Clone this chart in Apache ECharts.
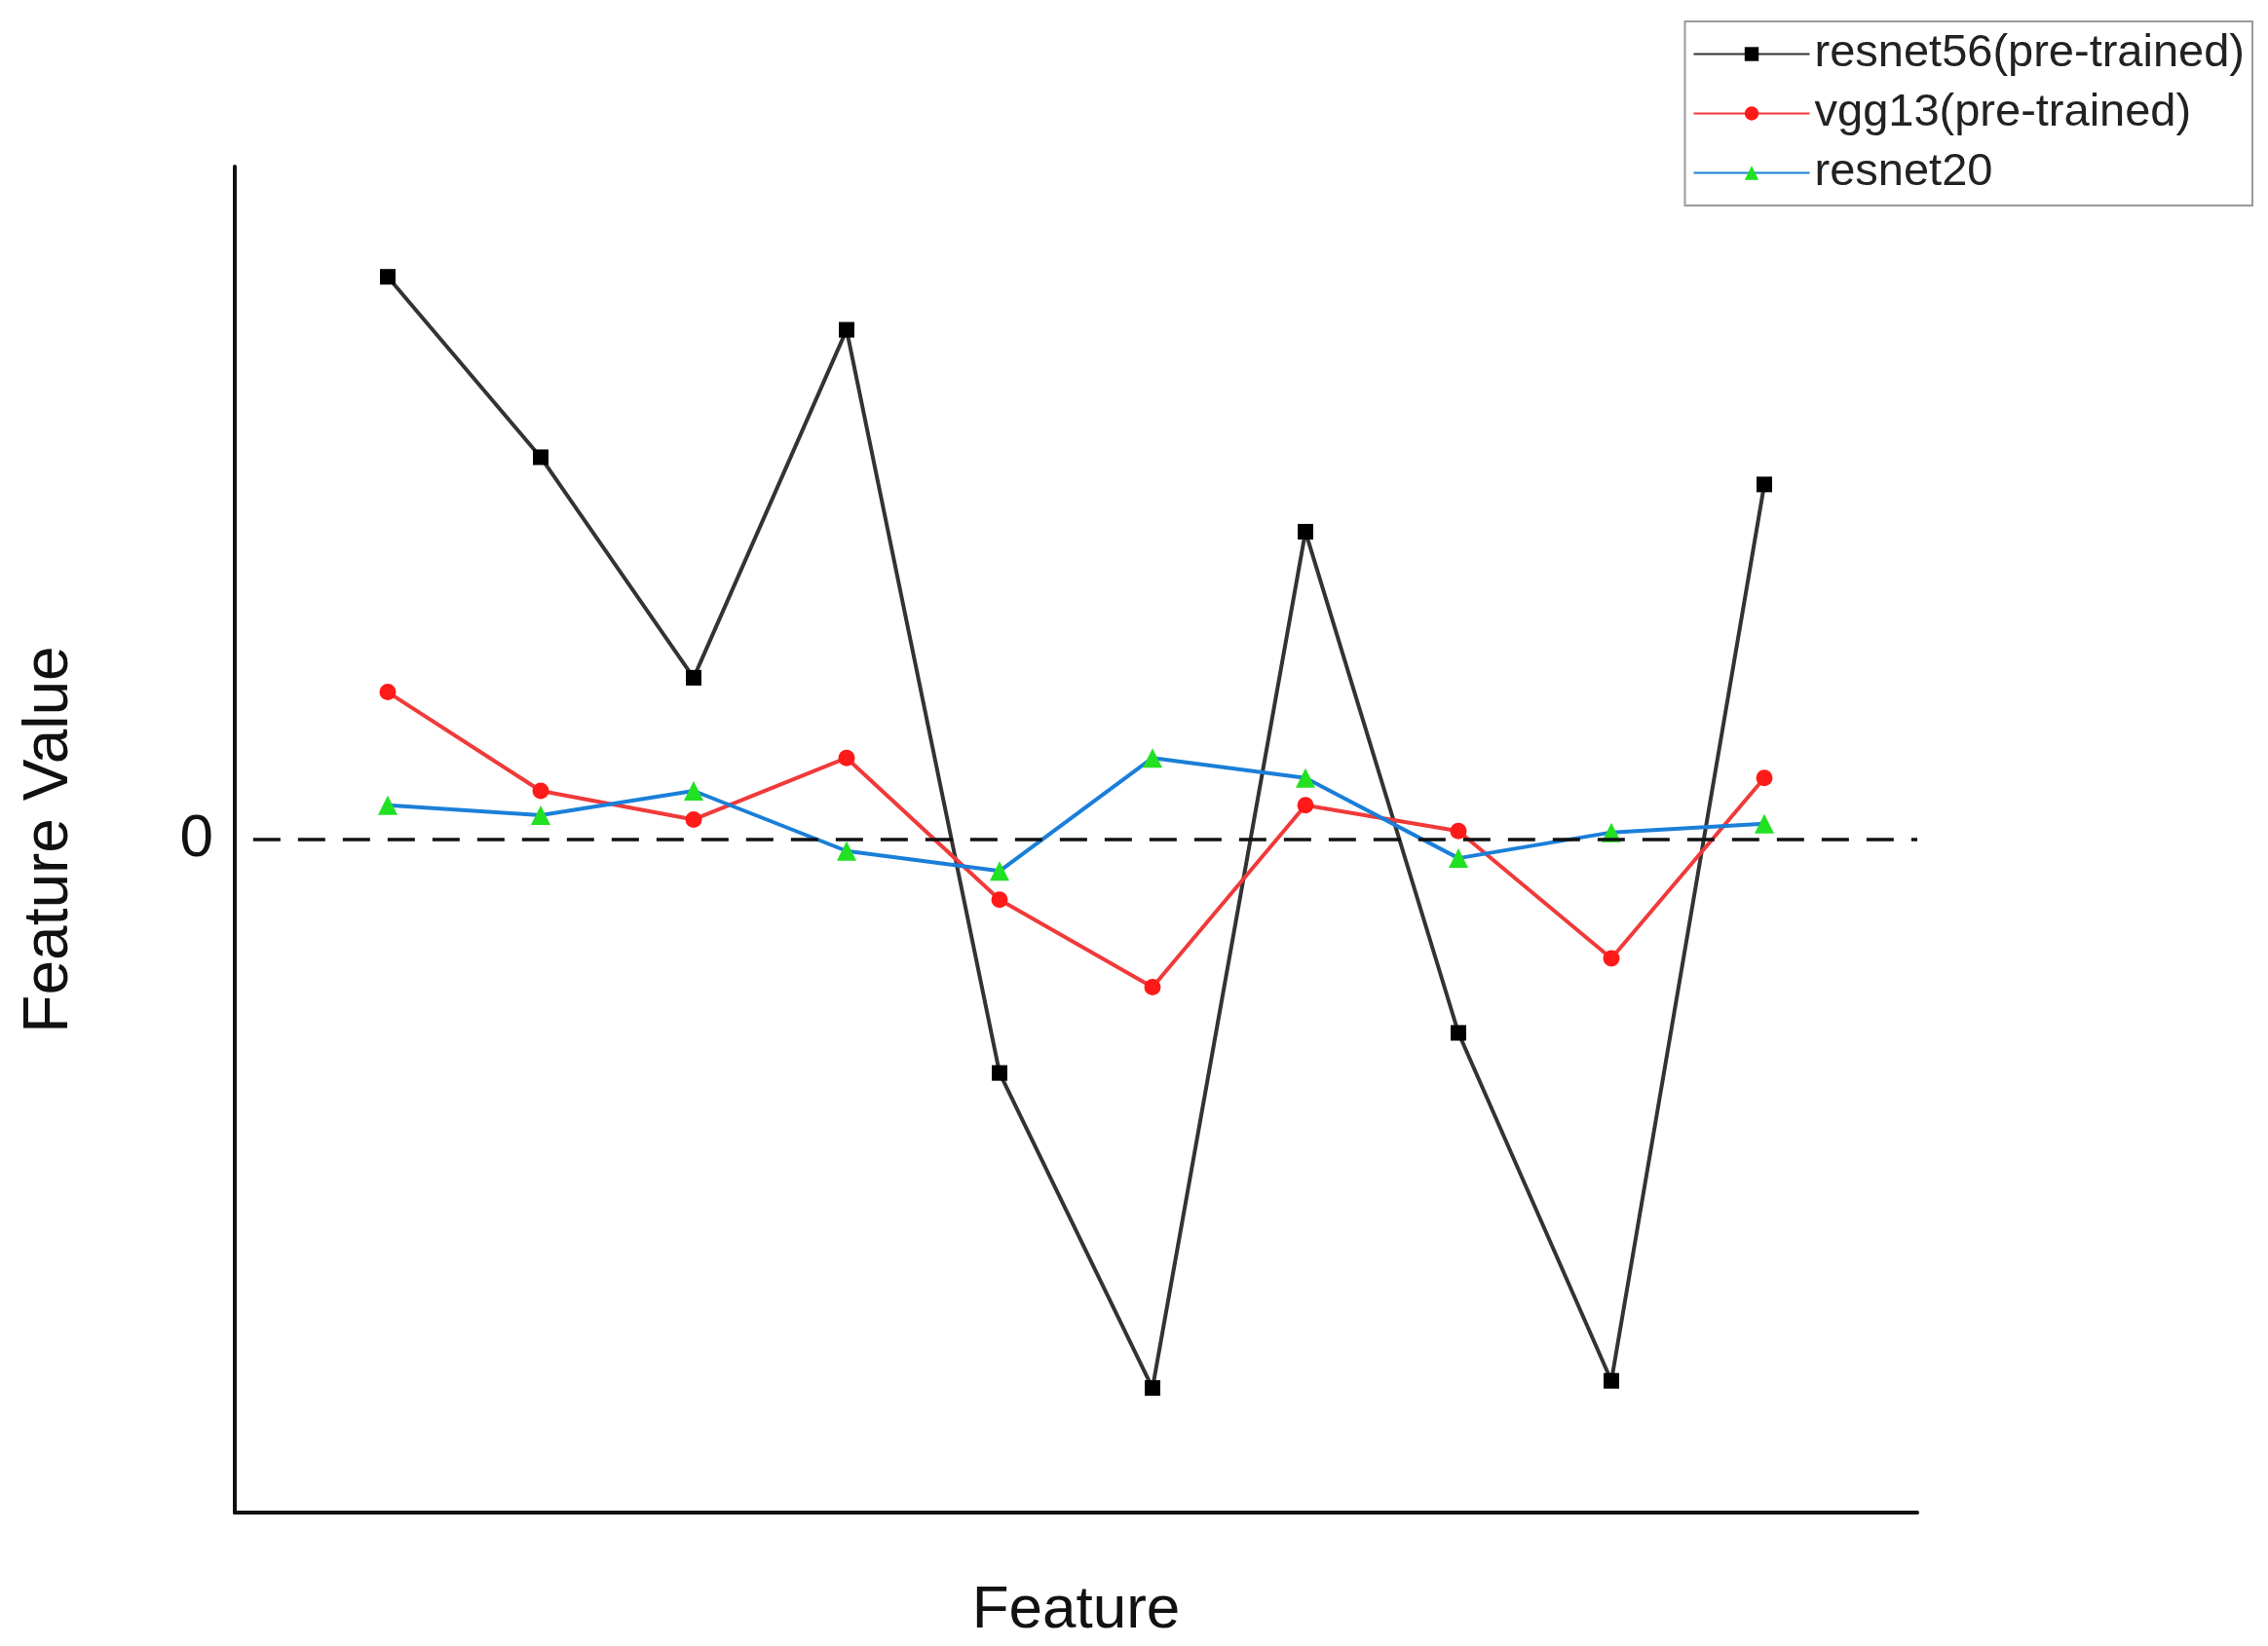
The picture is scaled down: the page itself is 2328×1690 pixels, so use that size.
<!DOCTYPE html>
<html>
<head>
<meta charset="utf-8">
<script src="https://cdn.jsdelivr.net/npm/echarts@6/dist/echarts.min.js"></script>
<style>html,body{margin:0;padding:0;background:#fff}#chart{width:2328px;height:1690px}</style>
</head>
<body>
<div id="chart"></div>
<script>
var features = [1, 2, 3, 4, 5, 6, 7, 8, 9, 10];
var resnet56 = [3.93, 2.67, 1.13, 3.56, -1.63, -3.83, 2.15, -1.35, -3.78, 2.48];
var vgg13 = [1.03, 0.34, 0.14, 0.57, -0.42, -1.03, 0.24, 0.06, -0.83, 0.43];
var resnet20 = [0.24, 0.17, 0.34, -0.08, -0.22, 0.57, 0.43, -0.13, 0.05, 0.11];

function pairs(arr) {
	return arr.map(function(v, i) { return [features[i], v]; });
}

var myChart = echarts.init(document.getElementById('chart'));
var font = 'Liberation Sans, Arial, sans-serif';
var option = {
	animation: false,
	grid: { left: 241, right: 360, top: 171, bottom: 128 },
	legend: {
		right: 16, top: 22,
		orient: 'vertical',
		backgroundColor: '#fff',
		borderColor: '#999', borderWidth: 2,
		padding: [10, 8, 10, 8],
		itemGap: 14,
		itemWidth: 119, itemHeight: 18,
		textStyle: { fontFamily: font, fontSize: 47, color: '#222' },
		data: ['resnet56(pre-trained)', 'vgg13(pre-trained)', 'resnet20']
	},
	xAxis: {
		type: 'value', min: 0, max: 11,
		name: 'Feature', nameLocation: 'middle', nameGap: 70,
		nameTextStyle: { fontFamily: font, fontSize: 62, color: '#111' },
		axisLine: { onZero: false, lineStyle: { color: '#111', width: 4 } },
		axisTick: { show: false }, axisLabel: { show: false }, splitLine: { show: false }
	},
	yAxis: {
		type: 'value', min: -4.7, max: 4.7, interval: 4.7,
		name: 'Feature Value', nameLocation: 'middle', nameGap: 158,
		nameTextStyle: { fontFamily: font, fontSize: 64, color: '#111' },
		axisLine: { show: true, onZero: false, lineStyle: { color: '#111', width: 4 } },
		axisTick: { show: false }, splitLine: { show: false },
		axisLabel: {
			fontFamily: font, fontSize: 62, color: '#111', margin: 22,
			formatter: function(v) { return Math.abs(v) < 1e-9 ? '0' : ''; }
		}
	},
	series: [{
		name: 'resnet56(pre-trained)', type: 'line', data: pairs(resnet56),
		symbol: 'rect', symbolSize: 16,
		lineStyle: { color: '#333', width: 4 },
		itemStyle: { color: '#000' },
		markLine: {
			silent: true, symbol: 'none', label: { show: false },
			lineStyle: { color: '#111', type: [28, 18], width: 3.5 },
			data: [[{ coord: [0.12, 0] }, { coord: [11, 0] }]]
		}
	}, {
		name: 'vgg13(pre-trained)', type: 'line', data: pairs(vgg13),
		symbol: 'circle', symbolSize: 17,
		lineStyle: { color: '#f03a3a', width: 4 },
		itemStyle: { color: '#ff1a1a' }
	}, {
		name: 'resnet20', type: 'line', data: pairs(resnet20),
		symbol: 'triangle', symbolSize: 20,
		lineStyle: { color: '#1a7fd8', width: 4 },
		itemStyle: { color: '#22e022' }
	}]
};
myChart.setOption(option);
window.addEventListener("resize", function() {
	myChart.resize();
});
</script>
</body>
</html>
